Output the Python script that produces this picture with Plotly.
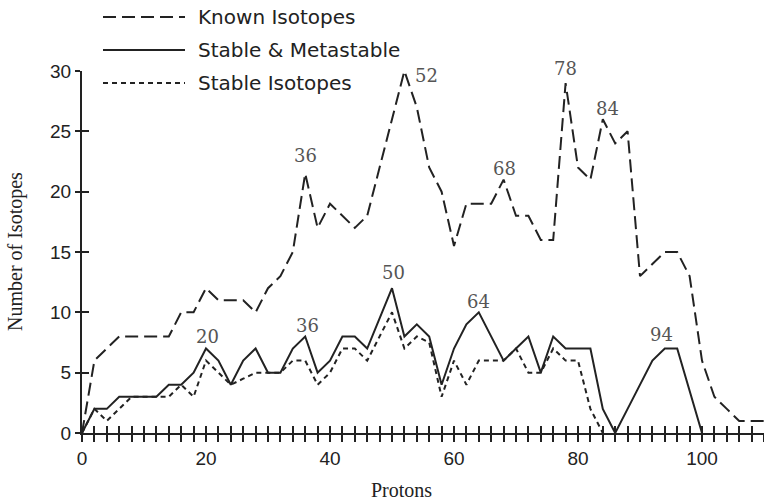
import plotly.graph_objects as go

# Proton number (even Z) and isotope counts
protons_known = list(range(0, 111, 2))
known_isotopes = [0, 6, 7, 8, 8, 8, 8, 8, 10, 10,
                  12, 11, 11, 11, 10, 12, 13, 15, 21.5, 17,
                  19, 18, 17, 18, 22, 26, 30, 27, 22, 20,
                  15.5, 19, 19, 19, 21, 18, 18, 16, 16, 29,
                  22, 21, 26, 24, 25, 13, 14, 15, 15, 13,
                  6, 3, 2, 1, 1, 1]

protons_metastable = list(range(0, 101, 2))
stable_metastable = [0, 2, 2, 3, 3, 3, 3, 4, 4, 5,
                     7, 6, 4, 6, 7, 5, 5, 7, 8, 5,
                     6, 8, 8, 7, 9.5, 12, 8, 9, 8, 4,
                     7, 9, 10, 8, 6, 7, 8, 5, 8, 7,
                     7, 7, 2, 0, 2, 4, 6, 7, 7, 3.5,
                     0]

protons_stable = list(range(0, 85, 2))
stable_isotopes = [0, 2, 1, 2, 3, 3, 3, 3, 4, 3,
                   6, 5, 4, 4.5, 5, 5, 5, 6, 6, 4,
                   5, 7, 7, 6, 8, 10, 7, 8, 7.5, 3,
                   6, 4, 6, 6, 6, 7, 5, 5, 7, 6,
                   6, 2, 0]

# Peak labels: (text, x, y) in data units
upper_labels = [("36", 36.0, 23.0), ("52", 55.6, 29.6), ("68", 68.1, 21.9),
                ("78", 78.0, 30.2), ("84", 84.8, 26.9)]
lower_labels = [("20", 20.3, 8.0), ("36", 36.3, 8.9), ("50", 50.3, 13.3),
                ("64", 63.9, 10.9), ("94", 93.4, 8.2)]

legend_names = ["Known Isotopes", "Stable & Metastable", "Stable Isotopes"]

# Tick positions and their labels
x_ticks = list(range(0, 111, 2))
x_tick_text = [str(v) if v % 20 == 0 and v <= 100 else "" for v in x_ticks]
y_ticks = [0, 5, 10, 15, 20, 25, 30]

INK = "#222222"
DASH_KNOWN = "13px,6px"
DASH_STABLE = "5px,4px"
W, H = 764, 504
L, R, T, B = 82, 0, 71, 71
X_RANGE = [0, 110]
Y_RANGE = [0, 30]

fig = go.Figure()
fig.add_trace(go.Scatter(x=protons_known, y=known_isotopes, mode="lines",
                         line=dict(color=INK, width=2, dash=DASH_KNOWN),
                         xaxis="x", yaxis="y", showlegend=False))
fig.add_trace(go.Scatter(x=protons_metastable, y=stable_metastable, mode="lines",
                         line=dict(color=INK, width=2),
                         xaxis="x2", yaxis="y2", showlegend=False))
fig.add_trace(go.Scatter(x=protons_stable, y=stable_isotopes, mode="lines",
                         line=dict(color=INK, width=2, dash=DASH_STABLE),
                         xaxis="x2", yaxis="y2", showlegend=False))

tick_font = dict(family="Liberation Sans, Arial, sans-serif", size=19, color=INK)

# Primary axes carry the outward half of each tick, overlay axes the inward half,
# so every tick crosses the axis line.
fig.update_layout(
    width=W, height=H,
    margin=dict(l=L, r=R, t=T, b=B),
    paper_bgcolor="white", plot_bgcolor="white",
    xaxis=dict(range=X_RANGE, showline=True, linewidth=2, linecolor=INK,
               ticks="outside", ticklen=7, tickwidth=1.5, tickcolor=INK,
               tickmode="array", tickvals=x_ticks, ticktext=x_tick_text,
               tickfont=tick_font, showgrid=False, zeroline=False),
    yaxis=dict(range=Y_RANGE, showline=True, linewidth=2, linecolor=INK,
               ticks="outside", ticklen=5, tickwidth=1.5, tickcolor=INK,
               tickmode="array", tickvals=y_ticks, tickfont=tick_font,
               showgrid=False, zeroline=False),
    xaxis2=dict(range=X_RANGE, overlaying="x", anchor="y2", side="bottom",
                ticks="inside", ticklen=7, tickwidth=1.5, tickcolor=INK,
                tickmode="array", tickvals=x_ticks, showticklabels=False,
                showline=False, showgrid=False, zeroline=False),
    yaxis2=dict(range=Y_RANGE, overlaying="y", anchor="x2", side="left",
                ticks="inside", ticklen=7, tickwidth=1.5, tickcolor=INK,
                tickmode="array", tickvals=y_ticks, showticklabels=False,
                showline=False, showgrid=False, zeroline=False),
)

pw, ph = W - L - R, H - T - B


def px_to_paper_x(px):
    return (px - L) / pw


def px_to_paper_y(py):
    return (H - B - py) / ph


def data_to_paper_x(v):
    return (v - X_RANGE[0]) / (X_RANGE[1] - X_RANGE[0])


def data_to_paper_y(v):
    return (v - Y_RANGE[0]) / (Y_RANGE[1] - Y_RANGE[0])


# Peak labels placed in paper space so labels above the top of the range still show
label_font = dict(family="DejaVu Serif, serif", size=18, color="#555555")
for text, lx, ly in upper_labels + lower_labels:
    fig.add_annotation(x=data_to_paper_x(lx), y=data_to_paper_y(ly),
                       xref="paper", yref="paper", text=text, showarrow=False,
                       font=label_font, xanchor="center", yanchor="middle")

# Axis titles
title_font = dict(family="Liberation Serif, Times New Roman, serif", size=20, color=INK)
fig.add_annotation(x=px_to_paper_x(401), y=px_to_paper_y(490), xref="paper", yref="paper",
                   text="Protons", showarrow=False, font=title_font,
                   xanchor="center", yanchor="middle")
fig.add_annotation(x=px_to_paper_x(15), y=px_to_paper_y(252), xref="paper", yref="paper",
                   text="Number of Isotopes", showarrow=False, font=title_font,
                   textangle=-90, xanchor="center", yanchor="middle")

# Key drawn above the plot area
legend_rows = [(17, DASH_KNOWN), (50, "solid"), (83, DASH_STABLE)]
legend_font = dict(family="DejaVu Sans, Verdana, sans-serif", size=20, color=INK)
for name, (row_y, dash) in zip(legend_names, legend_rows):
    fig.add_shape(type="line", xref="paper", yref="paper",
                  x0=px_to_paper_x(103), x1=px_to_paper_x(185),
                  y0=px_to_paper_y(row_y), y1=px_to_paper_y(row_y),
                  line=dict(color=INK, width=2, dash=dash))
    fig.add_annotation(x=px_to_paper_x(196), y=px_to_paper_y(row_y), xref="paper", yref="paper",
                       text=name, showarrow=False, font=legend_font,
                       xanchor="left", yanchor="middle")

fig.write_html("out.html")
